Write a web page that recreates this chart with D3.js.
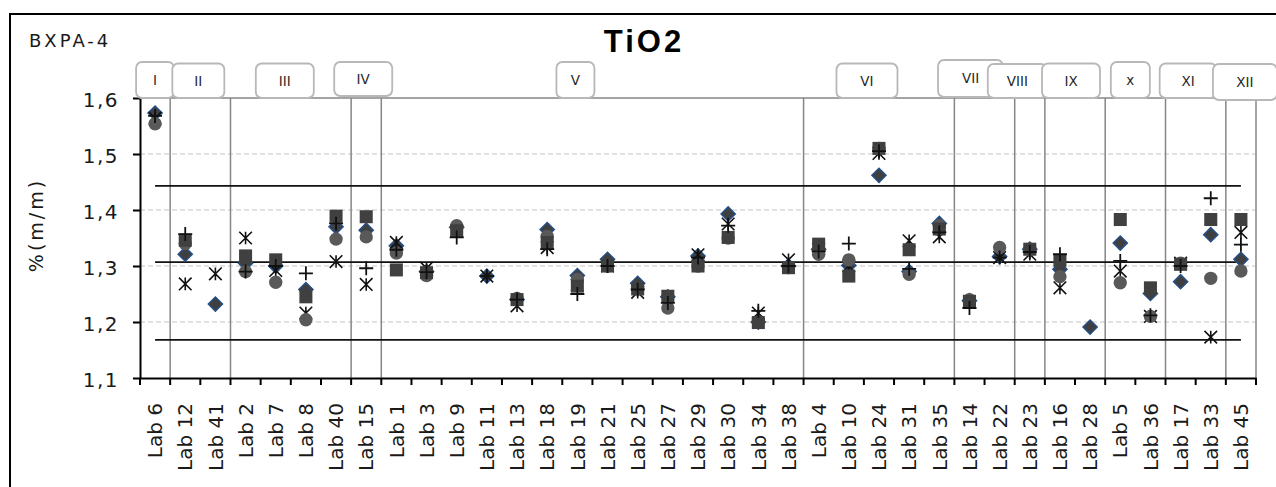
<!DOCTYPE html>
<html>
<head>
<meta charset="utf-8">
<script src="https://cdn.jsdelivr.net/npm/d3@7"></script>
<style>
    body { margin: 0; background: #fff; }
    svg text { font-family: "DejaVu Sans", Verdana, sans-serif; }
</style>
</head>
<body>
<svg id="chart" width="1276" height="487"></svg>
<script>
//Labs in the order they appear on the x axis
var labs = ["Lab 6", "Lab 12", "Lab 41", "Lab 2", "Lab 7", "Lab 8", "Lab 40", "Lab 15",
    "Lab 1", "Lab 3", "Lab 9", "Lab 11", "Lab 13", "Lab 18", "Lab 19", "Lab 21", "Lab 25",
    "Lab 27", "Lab 29", "Lab 30", "Lab 34", "Lab 38", "Lab 4", "Lab 10", "Lab 24", "Lab 31",
    "Lab 35", "Lab 14", "Lab 22", "Lab 23", "Lab 16", "Lab 28", "Lab 5", "Lab 36", "Lab 17",
    "Lab 33", "Lab 45"];

//Method groups and how many labs each one holds
var groupNames = ["I", "II", "III", "IV", "V", "VI", "VII", "VIII", "IX", "x", "XI", "XII"];
var groupSizes = [1, 2, 4, 1, 14, 5, 2, 1, 2, 2, 2, 1];

//Results per lab (null = no result)
var diamondVals = [1.573, 1.321, 1.232, 1.305, 1.300, 1.258, 1.370, 1.364,
    1.336, 1.290, 1.369, 1.282, 1.240, 1.365, 1.283, 1.312, 1.269,
    1.245, 1.318, 1.393, 1.200, 1.300, 1.330, 1.301, 1.462, 1.290,
    1.376, 1.238, 1.317, 1.330, 1.294, 1.191, 1.341, 1.251, 1.272,
    1.356, 1.312];
var squareVals = [null, 1.346, null, 1.318, 1.311, 1.245, 1.389, 1.388,
    1.293, 1.288, 1.363, null, 1.240, 1.342, 1.264, 1.300, 1.259,
    1.246, 1.300, 1.351, 1.199, 1.297, 1.339, 1.282, 1.510, 1.329,
    1.366, 1.237, null, 1.330, 1.310, null, 1.383, 1.261, 1.303,
    1.383, 1.383];
var circleVals = [1.554, 1.340, null, 1.290, 1.271, 1.204, 1.348, 1.352,
    1.323, 1.283, 1.372, null, 1.242, 1.353, 1.276, 1.300, 1.260,
    1.225, 1.300, 1.350, 1.200, 1.297, 1.321, 1.311, 1.510, 1.285,
    1.372, 1.240, 1.333, 1.330, 1.281, null, 1.270, 1.210, 1.305,
    1.278, 1.291];
var starVals = [1.564, 1.268, 1.286, 1.350, 1.292, 1.216, 1.308, 1.267,
    1.342, 1.296, 1.362, 1.282, 1.229, 1.333, 1.266, 1.300, 1.253,
    null, 1.320, 1.375, 1.216, 1.311, 1.330, 1.300, 1.501, 1.345,
    1.352, 1.236, 1.315, 1.321, 1.261, null, 1.291, 1.210, 1.305,
    1.173, 1.360];
var plusVals = [1.568, 1.357, null, 1.290, 1.300, 1.287, 1.376, 1.296,
    1.329, 1.289, 1.351, 1.282, 1.240, 1.330, 1.250, 1.300, 1.258,
    1.234, 1.315, 1.372, 1.220, 1.300, 1.326, 1.340, 1.505, 1.295,
    1.360, 1.225, 1.315, 1.325, 1.321, null, 1.309, 1.212, 1.300,
    1.421, 1.338];

//Assigned value and limits
var refValues = [1.443, 1.307, 1.168];

var yTicks = [1.1, 1.2, 1.3, 1.4, 1.5, 1.6];
var gridTicks = [1.2, 1.3, 1.4, 1.5];

//Where the group label boxes sit relative to their group (annotation layout)
var boxLayout = [
    {dx: 0, w: 38, top: 62, h: 36}, {dx: -2, w: 52, top: 63.5, h: 34.5},
    {dx: -6, w: 58, top: 63.5, h: 34.5}, {dx: -3, w: 58, top: 62, h: 34},
    {dx: -17, w: 38, top: 62, h: 36}, {dx: -12, w: 61, top: 63.5, h: 34.5},
    {dx: -14, w: 65, top: 60, h: 37}, {dx: -12.5, w: 59, top: 64, h: 34},
    {dx: -4, w: 58, top: 63.5, h: 34.5}, {dx: -5, w: 39, top: 62, h: 36},
    {dx: -7.5, w: 57, top: 63.5, h: 34.5}, {dx: 4, w: 64, top: 64, h: 36}
];

var svg = d3.select("#chart");

var margin = {left: 140, right: 20, top: 98, bottom: 109},
    width = +svg.attr("width"),
    height = +svg.attr("height");

//Outer frame of the chart (runs past the right and bottom edge)
svg.append("rect")
    .attr("x", 10)
    .attr("y", 14)
    .attr("width", 1300)
    .attr("height", 520)
    .attr("fill", "#fff")
    .attr("stroke", "#000")
    .attr("stroke-width", 2);

var x = d3.scaleBand()
    .domain(labs)
    .range([margin.left, width - margin.right])
    .padding(0);

var y = d3.scaleLinear()
    .domain([1.1, 1.6])
    .range([height - margin.bottom, margin.top]);

var cx = function(i) {
    return x(labs[i]) + x.bandwidth() / 2;
};

var comma = d3.formatLocale({decimal: ",", thousands: ".", grouping: [3], currency: ["", ""]});

//Dashed gridlines
svg.append("g")
    .selectAll("line")
    .data(gridTicks)
    .enter()
    .append("line")
    .attr("x1", x.range()[0])
    .attr("x2", x.range()[1])
    .attr("y1", function(d) { return y(d); })
    .attr("y2", function(d) { return y(d); })
    .attr("stroke", "#d9d9d9")
    .attr("stroke-width", 1.5)
    .attr("stroke-dasharray", "5,3");

//Plot area border (top and right)
svg.append("path")
    .attr("d", "M" + x.range()[0] + "," + y(1.6) + "H" + x.range()[1] + "V" + y(1.1))
    .attr("fill", "none")
    .attr("stroke", "#868686")
    .attr("stroke-width", 1.5);

//Group boundaries
var bounds = [];
var acc = 0;
groupSizes.forEach(function(n, i) {
    bounds.push({start: acc, end: acc + n, name: groupNames[i], box: boxLayout[i]});
    acc += n;
});

svg.append("g")
    .selectAll("line")
    .data(bounds.slice(1))
    .enter()
    .append("line")
    .attr("x1", function(d) { return x(labs[d.start]); })
    .attr("x2", function(d) { return x(labs[d.start]); })
    .attr("y1", y(1.6))
    .attr("y2", y(1.1))
    .attr("stroke", "#868686")
    .attr("stroke-width", 1.5);

//Assigned value and limit lines
svg.append("g")
    .selectAll("line")
    .data(refValues)
    .enter()
    .append("line")
    .attr("x1", cx(0))
    .attr("x2", cx(labs.length - 1))
    .attr("y1", function(d) { return y(d); })
    .attr("y2", function(d) { return y(d); })
    .attr("stroke", "#111")
    .attr("stroke-width", 1.8);

//Axes
var yAxis = svg.append("g")
    .attr("transform", "translate(" + margin.left + ",0)")
    .call(d3.axisLeft(y)
        .tickValues(yTicks)
        .tickSize(7)
        .tickSizeOuter(0)
        .tickPadding(14)
        .tickFormat(comma.format(".1f")));

yAxis.select(".domain").attr("stroke", "#000").attr("stroke-width", 2);
yAxis.selectAll(".tick line").attr("stroke", "#000").attr("stroke-width", 2);
yAxis.selectAll(".tick text")
    .attr("font-size", 20)
    .attr("letter-spacing", "1.5px")
    .attr("fill", "#1a1a1a")
    .attr("dy", "0.4em");

var xAxis = svg.append("g")
    .attr("transform", "translate(0," + y(1.1) + ")")
    .call(d3.axisBottom(x).tickSize(0).tickSizeOuter(0));

xAxis.select(".domain").attr("stroke", "#000").attr("stroke-width", 2);
xAxis.selectAll(".tick text")
    .attr("font-size", 20)
    .attr("fill", "#1a1a1a")
    .attr("transform", "rotate(-90)")
    .attr("text-anchor", "end")
    .attr("x", -25)
    .attr("y", 0)
    .attr("dy", "0.36em");

//Tick marks between categories
var edges = labs.map(function(d) { return x(d); }).concat([x.range()[1]]);
xAxis.append("g")
    .selectAll("line")
    .data(edges)
    .enter()
    .append("line")
    .attr("x1", function(d) { return d; })
    .attr("x2", function(d) { return d; })
    .attr("y1", 0)
    .attr("y2", 7)
    .attr("stroke", "#000")
    .attr("stroke-width", 2);

//Markers
function starPath(r) {
    return "M" + (-r) + "," + (-r) + "L" + r + "," + r +
        "M" + (-r) + "," + r + "L" + r + "," + (-r) +
        "M0," + (-r) + "L0," + r;
}
function plusPath(r) {
    return "M" + (-r) + ",0H" + r + "M0," + (-r) + "V" + r;
}

var series = [
    {vals: diamondVals, path: d3.symbol().type(d3.symbolSquare).size(100)(), rot: 45,
        fill: "#3f3f3f", stroke: "#254f87", sw: 1.5},
    {vals: starVals, path: starPath(6.3), rot: 0, fill: "none", stroke: "#111", sw: 1.6},
    {vals: circleVals, path: d3.symbol().type(d3.symbolCircle).size(140)(), rot: 0,
        fill: "#595959", stroke: "none", sw: 0},
    {vals: squareVals, path: d3.symbol().type(d3.symbolSquare).size(170)(), rot: 0,
        fill: "#404040", stroke: "none", sw: 0},
    {vals: plusVals, path: plusPath(7), rot: 0, fill: "none", stroke: "#111", sw: 1.8}
];

series.forEach(function(s) {
    var pts = s.vals.map(function(v, i) { return {i: i, v: v}; })
        .filter(function(d) { return d.v !== null; });
    svg.append("g")
        .selectAll("path")
        .data(pts)
        .enter()
        .append("path")
        .attr("d", s.path)
        .attr("transform", function(d) {
            return "translate(" + cx(d.i) + "," + y(d.v) + ") rotate(" + s.rot + ")";
        })
        .attr("fill", s.fill)
        .attr("stroke", s.stroke)
        .attr("stroke-width", s.sw);
});

//Group label boxes
var boxes = svg.append("g")
    .selectAll("g")
    .data(bounds)
    .enter()
    .append("g")
    .attr("transform", function(d) {
        var mid = (x(labs[d.start]) + (d.end < labs.length ? x(labs[d.end]) : x.range()[1])) / 2;
        return "translate(" + (mid + d.box.dx) + "," + d.box.top + ")";
    });

boxes.append("rect")
    .attr("x", function(d) { return -d.box.w / 2; })
    .attr("y", 0)
    .attr("width", function(d) { return d.box.w; })
    .attr("height", function(d) { return d.box.h; })
    .attr("rx", 6)
    .attr("fill", "#fff")
    .attr("stroke", "#b8b8b8")
    .attr("stroke-width", 1.8);

boxes.append("text")
    .attr("x", 0)
    .attr("y", function(d) { return d.box.h / 2; })
    .attr("dy", "0.36em")
    .attr("text-anchor", "middle")
    .attr("font-size", 13.5)
    .attr("fill", "#262626")
    .text(function(d) { return d.name; });

//Titles
svg.append("text")
    .attr("x", 644)
    .attr("y", 52)
    .attr("text-anchor", "middle")
    .attr("font-family", "'Liberation Sans', Arial, sans-serif")
    .style("font-family", "'Liberation Sans', Arial, sans-serif")
    .attr("font-weight", "bold")
    .attr("font-size", 31)
    .attr("letter-spacing", "3px")
    .attr("fill", "#000")
    .text("TiO2");

svg.append("text")
    .attr("x", 29)
    .attr("y", 47)
    .attr("font-size", 18)
    .attr("letter-spacing", "3px")
    .attr("fill", "#1a1a1a")
    .text("BXPA-4");

svg.append("text")
    .attr("transform", "translate(36,225) rotate(-90)")
    .attr("text-anchor", "middle")
    .attr("dy", "0.36em")
    .attr("font-size", 19)
    .attr("letter-spacing", "3px")
    .attr("fill", "#1a1a1a")
    .text("%(m/m)");
</script>
</body>
</html>
